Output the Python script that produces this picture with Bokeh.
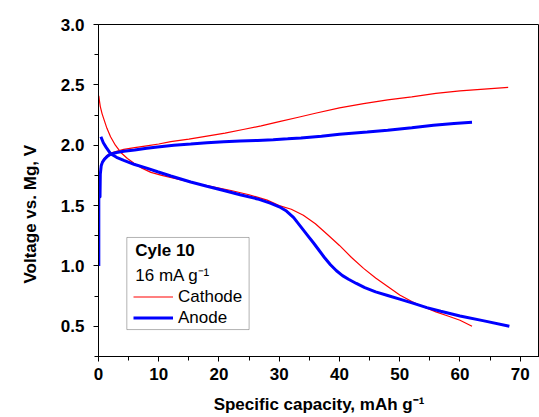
from bokeh.plotting import figure
from bokeh.models import Range1d, BoxAnnotation, Label, Legend, LegendItem, FixedTicker, NumeralTickFormatter, Title
from bokeh.embed import file_html
from bokeh.resources import INLINE

# ---- data ----
cathode_charge_x = [0.3, 0.5, 0.8, 1.3, 2, 3, 4.2, 6, 8, 10, 12, 15, 18, 21, 24, 27, 30, 33, 36, 40, 44, 48, 52, 56, 60, 64, 68]
cathode_charge_v = [1.80, 1.85, 1.88, 1.91, 1.935, 1.95, 1.965, 1.98, 1.995, 2.01, 2.03, 2.05, 2.075, 2.10, 2.13, 2.16, 2.195, 2.23, 2.265, 2.31, 2.345, 2.375, 2.40, 2.43, 2.45, 2.465, 2.48]

cathode_dis_x = [0.05, 0.15, 0.3, 0.6, 0.93, 1.4, 2, 2.8, 3.7, 4.8, 5.9, 7.2, 8.7, 10.5, 13, 16, 19, 22, 25, 28, 30, 32, 34, 36, 38, 40, 42, 44, 46, 48, 50, 52, 54, 56, 58, 60, 62]
cathode_dis_v = [2.41, 2.37, 2.32, 2.26, 2.21, 2.14, 2.07, 2.0, 1.94, 1.89, 1.85, 1.81, 1.775, 1.75, 1.72, 1.685, 1.655, 1.625, 1.59, 1.545, 1.50, 1.47, 1.42, 1.35, 1.26, 1.17, 1.07, 0.98, 0.90, 0.83, 0.76, 0.705, 0.66, 0.62, 0.585, 0.55, 0.50]

anode_dis_x = [0.4, 0.8, 1.3, 2, 3, 4.2, 6, 8, 9.8, 12, 15.3, 18, 20.8, 23.5, 26.4, 28.5, 30, 31.2, 32.4, 33.5, 34.6, 35.7, 36.6, 37.5, 38.5, 39.5, 40.5, 41.5, 42.8, 44.2, 46, 48, 50, 52.3, 54.5, 56.8, 60, 64, 68.2]
anode_dis_v = [2.07, 2.02, 1.98, 1.93, 1.90, 1.875, 1.84, 1.81, 1.78, 1.745, 1.695, 1.66, 1.625, 1.59, 1.555, 1.52, 1.49, 1.455, 1.40, 1.33, 1.26, 1.19, 1.13, 1.07, 1.01, 0.96, 0.92, 0.89, 0.855, 0.82, 0.785, 0.755, 0.725, 0.69, 0.655, 0.625, 0.585, 0.545, 0.50]

anode_charge_x = [0.05, 0.05, 0.25, 0.3, 0.45, 0.66, 1.0, 1.5, 2, 3, 4.2, 6, 8, 9.8, 12.5, 15.3, 18, 20.8, 23.5, 26.4, 29, 31.4, 33.6, 37, 40, 44.6, 48, 52, 55.6, 59, 62]
anode_charge_v = [1.0, 1.57, 1.57, 1.76, 1.83, 1.86, 1.885, 1.91, 1.925, 1.94, 1.95, 1.96, 1.975, 1.985, 2.0, 2.01, 2.02, 2.028, 2.034, 2.04, 2.046, 2.053, 2.06, 2.075, 2.09, 2.11, 2.125, 2.145, 2.165, 2.18, 2.19]

x_ticks = [0, 10, 20, 30, 40, 50, 60, 70]
x_minor = [5, 15, 25, 35, 45, 55, 65]
y_ticks = [0.5, 1.0, 1.5, 2.0, 2.5, 3.0]
y_minor = [0.25, 0.75, 1.25, 1.75, 2.25, 2.75]

x_title = "Specific capacity, mAh g\u207b\u00b9"
y_title = "Voltage vs. Mg, V"
legend_title = "Cyle 10"
legend_rate = "16 mA g\u207b\u00b9"
series_names = ["Cathode", "Anode"]

FONT = "Liberation Sans"

p = figure(width=539, height=417, output_backend="svg", toolbar_location=None,
           x_range=Range1d(0, 73.2), y_range=Range1d(0.25, 3.0),
           min_border_left=98, min_border_right=0, min_border_top=24, min_border_bottom=61)

p.xgrid.visible = False
p.ygrid.visible = False
p.outline_line_color = "black"
p.outline_line_width = 1
p.background_fill_color = "white"
p.border_fill_color = "white"

for ax in (p.xaxis[0], p.yaxis[0]):
    ax.axis_line_color = "black"
    ax.axis_line_width = 1
    ax.major_tick_line_color = "black"
    ax.minor_tick_line_color = "black"
    ax.major_tick_line_width = 1
    ax.minor_tick_line_width = 1
    ax.major_tick_in = 0
    ax.major_tick_out = 5
    ax.minor_tick_in = 0
    ax.minor_tick_out = 4
    ax.major_label_text_font = FONT
    ax.major_label_text_font_style = "bold"
    ax.major_label_text_font_size = "17px"
    ax.major_label_text_color = "black"
    ax.axis_label_text_font = FONT
    ax.axis_label_text_font_style = "bold"
    ax.axis_label_text_font_size = "17px"
    ax.axis_label_text_color = "black"

p.xaxis[0].ticker = FixedTicker(ticks=x_ticks, minor_ticks=x_minor)
p.yaxis[0].ticker = FixedTicker(ticks=y_ticks, minor_ticks=y_minor)
p.yaxis[0].formatter = NumeralTickFormatter(format="0.0")
p.xaxis.axis_label = x_title
p.xaxis.major_label_standoff = 6
p.yaxis.major_label_standoff = 9
p.xaxis.axis_label_standoff = 12

r_c1 = p.line(cathode_charge_x, cathode_charge_v, line_color="#FF0000", line_width=1.2)
r_c2 = p.line(cathode_dis_x, cathode_dis_v, line_color="#FF0000", line_width=1.2)
r_a1 = p.line(anode_dis_x, anode_dis_v, line_color="#0000FF", line_width=3)
r_a2 = p.line(anode_charge_x, anode_charge_v, line_color="#0000FF", line_width=3)

# y-axis title as a side title (sits a little below the frame centre, as in the reference)
ytitle = Title(text=y_title, align="left", offset=73, standoff=35,
               text_font=FONT, text_font_style="bold", text_font_size="17px",
               text_color="black")
p.add_layout(ytitle, "left")

box = BoxAnnotation(left=4.7, right=25.0, top=1.236, bottom=0.473,
                    fill_color="white", fill_alpha=1.0, line_color="black", line_width=1)
p.add_layout(box)

p.add_layout(Label(x=6.1, y=1.125, text=legend_title, text_font=FONT, text_font_style="bold",
                   text_font_size="17px", text_baseline="middle", text_color="black"))
p.add_layout(Label(x=6.1, y=0.92, text=legend_rate, text_font=FONT,
                   text_font_size="17px", text_baseline="middle", text_color="black"))

leg = Legend(items=[LegendItem(label=series_names[0], renderers=[r_c1]),
                    LegendItem(label=series_names[1], renderers=[r_a1])],
             location=(35, 28), orientation="vertical",
             border_line_alpha=0, background_fill_alpha=0,
             padding=0, margin=0, spacing=0,
             glyph_width=40, glyph_height=21, label_height=21, label_standoff=5,
             label_text_font=FONT, label_text_font_size="17px", label_text_color="black")
p.add_layout(leg, "center")

open("out.html", "w").write(file_html(p, INLINE))
